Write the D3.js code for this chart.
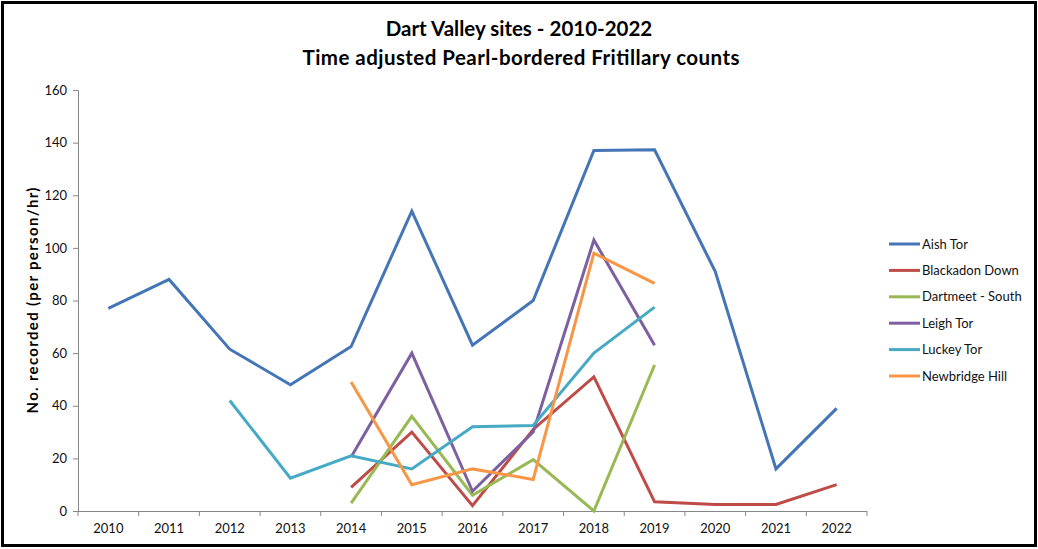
<!DOCTYPE html>
<html><head><meta charset="utf-8">
<script src="https://cdn.jsdelivr.net/npm/d3@7"></script>
<style>body{margin:0;background:#fff}svg{display:block}</style>
</head><body><svg id="c" width="1038" height="549"></svg>
<script>
const years = ["2010","2011","2012","2013","2014","2015","2016","2017","2018","2019","2020","2021","2022"];
const yTicks = [0,20,40,60,80,100,120,140,160];
const seriesNames = ["Aish Tor","Blackadon Down","Dartmeet - South","Leigh Tor","Luckey Tor","Newbridge Hill"];
const seriesColors = ["#4475B6","#BE4B48","#98B954","#7D60A0","#46AAC5","#F79646"];
const aishTor      = [77, 88, 61.5, 48, 62.5, 114, 63, 80, 137, 137.3, 91, 16, 39];
const blackadon    = [null, null, null, null, 9, 30, 2, 31, 51, 3.5, 2.5, 2.5, 10];
const dartmeet     = [null, null, null, null, 3, 36, 6, 19.5, 0, 55.5, null, null, null];
const leighTor     = [null, null, null, null, 20.5, 60, 7.5, 30, 103, 63, null, null, null];
const luckeyTor    = [null, null, 42, 12.5, 21, 16, 32, 32.5, 60, 77.5, null, null, null];
const newbridge    = [null, null, null, null, 49, 10, 16, 12, 98, 86.5, null, null, null];
const seriesValues = [aishTor, blackadon, dartmeet, leighTor, luckeyTor, newbridge];

(function(){
const svg = d3.select("#c");
const font = "Lato, 'Open Sans', sans-serif";
svg.append("rect").attr("x",2.5).attr("y",2.5).attr("width",1033).attr("height",543)
  .attr("fill","#fff").attr("stroke","#000").attr("stroke-width",3);

const pl=78, pr=867, pt=90, pb=511;
const x = d3.scaleBand().domain(years).range([pl,pr]);
const y = d3.scaleLinear().domain([0,160]).range([pb,pt]);

const title = svg.append("text").attr("text-anchor","middle").attr("font-family",font)
  .attr("font-weight","bold").attr("font-size",20.5).attr("fill","#000");
title.append("tspan").attr("x",519).attr("y",36).text("Dart Valley sites - 2010-2022");
title.append("tspan").attr("x",521).attr("y",65).attr("textLength",437).attr("lengthAdjust","spacing")
  .text("Time adjusted Pearl-bordered Fritillary counts");

const ya = svg.append("g").attr("transform",`translate(${pl},0)`)
  .call(d3.axisLeft(y).tickValues(yTicks).tickSize(5).tickPadding(6));
ya.selectAll("text").attr("font-family",font).attr("font-size",13).attr("fill","#111");
ya.selectAll("line,path").attr("stroke","#878787");

const xa = svg.append("g").attr("transform",`translate(0,${pb})`)
  .call(d3.axisBottom(x).tickSize(0).tickPadding(13));
xa.selectAll("text").attr("font-family",font).attr("font-size",13).attr("fill","#111");
xa.select("path").attr("stroke","#878787").attr("d",`M${pl},0.5H${pr}`);
xa.selectAll(".btick").data(years.concat(["end"])).enter().append("line")
  .attr("x1",(d,i)=> pl + i*x.step()).attr("x2",(d,i)=> pl + i*x.step())
  .attr("y1",0).attr("y2",5).attr("stroke","#878787");

svg.append("text").attr("transform",`translate(38,${(pt+pb)/2}) rotate(-90)`)
  .attr("text-anchor","middle").attr("font-family",font).attr("font-weight","bold")
  .attr("font-size",15).attr("textLength",226).attr("lengthAdjust","spacing")
  .text("No. recorded (per person/hr)");

const line = d3.line().defined(d=>d!=null)
  .x((d,i)=>x(years[i])+x.bandwidth()/2).y(d=>y(d));
seriesValues.forEach((vals,k)=>{
  svg.append("path").datum(vals).attr("d",line).attr("fill","none")
    .attr("stroke",seriesColors[k]).attr("stroke-width",3).attr("stroke-linejoin","miter");
});

const lg = svg.append("g");
seriesNames.forEach((n,k)=>{
  const yy = 244 + k*26.4;
  lg.append("line").attr("x1",889).attr("x2",920).attr("y1",yy).attr("y2",yy)
    .attr("stroke",seriesColors[k]).attr("stroke-width",3);
  lg.append("text").attr("x",922).attr("y",yy+4.5).attr("font-family",font)
    .attr("font-size",13).attr("fill","#111").text(n);
});
})();
</script></body></html>
